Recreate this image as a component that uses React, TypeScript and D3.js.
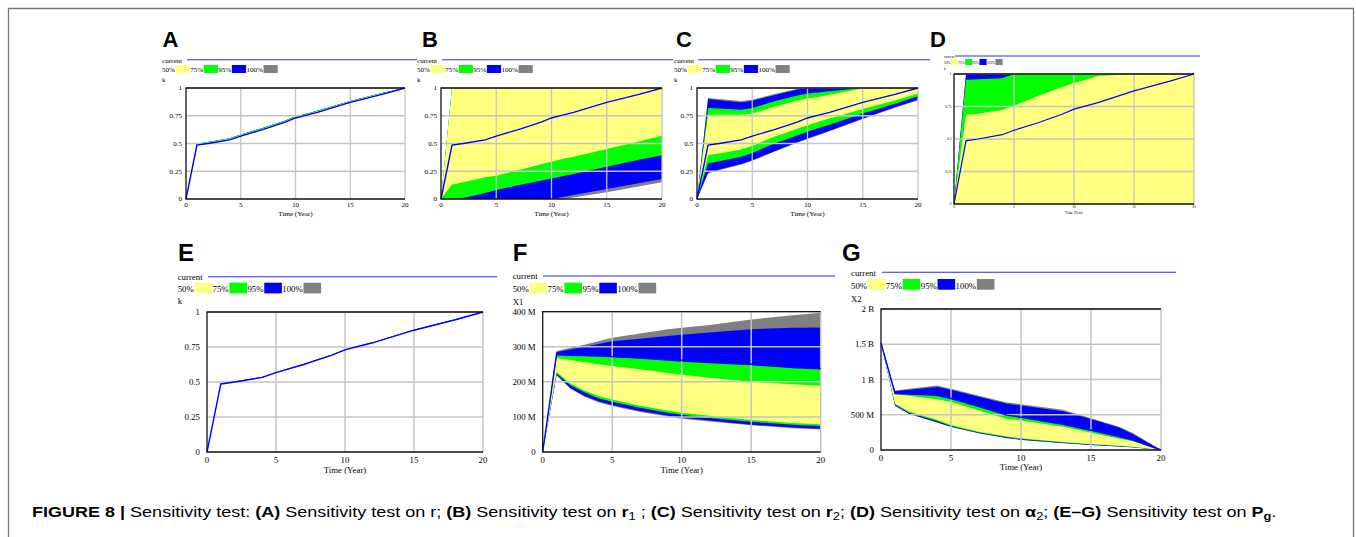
import * as d3 from "d3";
import { useEffect, useRef } from "react";

// shared axis / legend text
const years = [0, 5, 10, 15, 20];
const legendLabels = ["50%", "75%", "95%", "100%"];
const bandColors = ["#ffff80", "#00ff00", "#0000ff", "#808080"];

const kTicks = [0, 0.25, 0.5, 0.75, 1];
const kTickLabels = ["0", "0.25", "0.5", "0.75", "1"];
const x1Ticks = [0, 100, 200, 300, 400]; // millions
const x1TickLabels = ["0", "100 M", "200 M", "300 M", "400 M"];
const x2Ticks = [0, 0.5, 1, 1.5, 2]; // billions
const x2TickLabels = ["0", "500 M", "1 B", "1.5 B", "2 B"];

// k (panels A-E), years
const kTimes = [0, 1, 2, 4, 5, 7, 9, 10, 11, 12, 15, 18, 20];
const kCurrent = [0, 0.486, 0.5, 0.533, 0.567, 0.625, 0.69, 0.73, 0.755, 0.78, 0.87, 0.945, 1.0];

// A: test on r (bands hug the base run)
const aHi50 = [0, 0.494, 0.508, 0.541, 0.575, 0.633, 0.698, 0.738, 0.763, 0.788, 0.878, 0.952, 1.0];
const aHi75 = [0, 0.5, 0.514, 0.547, 0.581, 0.639, 0.704, 0.744, 0.769, 0.794, 0.884, 0.957, 1.0];

// B: test on r1
const bHi = [0, 1, 1, 1, 1, 1, 1, 1, 1, 1, 1, 1, 1];
const bLo50 = [0, 0.13, 0.15, 0.195, 0.21, 0.26, 0.31, 0.335, 0.36, 0.38, 0.45, 0.52, 0.57];
const bLo75 = [0, 0, 0.01, 0.055, 0.08, 0.125, 0.165, 0.185, 0.205, 0.225, 0.29, 0.355, 0.395];
const bLo95 = [0, 0, 0, 0, 0, 0, 0, 0, 0.018, 0.036, 0.09, 0.145, 0.18];
const bLo100 = [0, 0, 0, 0, 0, 0, 0, 0, 0, 0.014, 0.06, 0.115, 0.15];

// C: test on r2
const cHi100 = [0, 0.91, 0.9, 0.883, 0.895, 0.945, 0.99, 1, 1, 1, 1, 1, 1];
const cHi95 = [0, 0.9, 0.89, 0.87, 0.885, 0.935, 0.985, 1, 1, 1, 1, 1, 1];
const cHi75 = [0, 0.82, 0.815, 0.805, 0.82, 0.88, 0.93, 0.95, 0.96, 0.97, 1, 1, 1];
const cHi50 = [0, 0.76, 0.76, 0.76, 0.77, 0.83, 0.885, 0.905, 0.92, 0.94, 0.995, 1, 1];
const cLo50 = [0, 0.395, 0.41, 0.446, 0.48, 0.56, 0.63, 0.665, 0.695, 0.725, 0.81, 0.89, 0.95];
const cLo75 = [0, 0.32, 0.34, 0.38, 0.415, 0.5, 0.57, 0.605, 0.64, 0.67, 0.77, 0.86, 0.925];
const cLo95 = [0, 0.237, 0.265, 0.315, 0.35, 0.43, 0.51, 0.545, 0.58, 0.615, 0.725, 0.83, 0.895];
const cLo100 = [0, 0.23, 0.258, 0.31, 0.345, 0.425, 0.505, 0.54, 0.575, 0.61, 0.72, 0.825, 0.89];

// D: test on alpha2
const dHi95 = [0, 1, 1, 1, 1, 1, 1, 1, 1, 1, 1, 1, 1];
const dHi75 = [0, 0.955, 0.96, 0.967, 1, 1, 1, 1, 1, 1, 1, 1, 1];
const dHi50 = [0, 0.685, 0.695, 0.724, 0.755, 0.83, 0.9, 0.93, 0.955, 0.985, 1, 1, 1];
const dLo = [0, 0, 0, 0, 0, 0, 0, 0, 0, 0, 0, 0, 0];

// E: test on Pg, k
const eHi = [0, 0.489, 0.503, 0.536, 0.57, 0.628, 0.693, 0.733, 0.758, 0.783, 0.873, 0.948, 1.0];

// F: test on Pg, X1 (millions)
const fTimes = [0, 1, 2, 3, 4, 5, 7, 9, 10, 12, 15, 18, 20];
const fCurrent = [0, 280, 278, 276, 274, 272, 269, 264, 262, 258, 250, 243, 238];
const fHi100 = [0, 288, 297, 306, 316, 326, 338, 350, 354, 362, 378, 390, 397];
const fHi95 = [0, 285, 292, 300, 308, 316, 323, 331, 334, 341, 350, 354, 355];
const fHi75 = [0, 275, 274, 273, 272, 270, 266, 260, 257, 253, 247, 239, 235];
const fHi50 = [0, 268, 262, 256, 250, 245, 236, 225, 220, 212, 200, 193, 189];
const fLo50 = [0, 228, 195, 175, 160, 150, 132, 118, 112, 103, 91, 83, 79];
const fLo75 = [0, 224, 190, 170, 153, 143, 126, 112, 106, 97, 86, 78, 74];
const fLo95 = [0, 220, 182, 160, 145, 134, 117, 104, 98, 90, 78, 70, 66];
const fLo100 = [0, 218, 180, 158, 142, 131, 114, 101, 95, 87, 76, 68, 64];

// G: test on Pg, X2 (billions)
const gTimes = [0, 1, 2, 4, 5, 7, 9, 10, 13, 15, 17, 18, 20];
const gCurrent = [1.52, 0.8, 0.795, 0.775, 0.73, 0.615, 0.495, 0.465, 0.365, 0.28, 0.19, 0.14, 0];
const gHi100 = [1.52, 0.845, 0.87, 0.915, 0.87, 0.77, 0.675, 0.65, 0.57, 0.45, 0.33, 0.24, 0];
const gHi95 = [1.52, 0.835, 0.855, 0.895, 0.855, 0.755, 0.655, 0.63, 0.55, 0.44, 0.32, 0.225, 0];
const gHi75 = [1.52, 0.8, 0.795, 0.78, 0.735, 0.62, 0.5, 0.47, 0.36, 0.285, 0.19, 0.14, 0];
const gHi50 = [1.52, 0.79, 0.77, 0.72, 0.68, 0.56, 0.44, 0.42, 0.33, 0.245, 0.16, 0.125, 0];
const gLo50 = [1.52, 0.655, 0.545, 0.43, 0.355, 0.26, 0.19, 0.166, 0.115, 0.085, 0.06, 0.047, 0];
const gLo75 = [1.52, 0.645, 0.53, 0.41, 0.34, 0.25, 0.18, 0.155, 0.105, 0.078, 0.055, 0.042, 0];
const gLo95 = [1.52, 0.63, 0.515, 0.395, 0.33, 0.24, 0.17, 0.147, 0.098, 0.072, 0.05, 0.038, 0];
const gLo100 = [1.52, 0.625, 0.51, 0.39, 0.325, 0.235, 0.165, 0.143, 0.095, 0.07, 0.048, 0.036, 0];

const captionParts = [
  ["FIGURE 8 | ", "b"],
  ["Sensitivity test: ", ""],
  ["(A)", "b"],
  [" Sensitivity test on r; ", ""],
  ["(B)", "b"],
  [" Sensitivity test on ", ""],
  ["r", "b"],
  ["1", "sub"],
  [" ; ", ""],
  ["(C)", "b"],
  [" Sensitivity test on ", ""],
  ["r", "b"],
  ["2", "sub"],
  ["; ", ""],
  ["(D)", "b"],
  [" Sensitivity test on ", ""],
  ["\u03b1", "b"],
  ["2", "sub"],
  ["; ", ""],
  ["(E\u2013G)", "b"],
  [" Sensitivity test on ", ""],
  ["P", "b"],
  ["g", "bsub"],
  [".", ""],
];

const topRow = { letterY: 47, letterSize: 22, fs: 7.1, currentY: 63, lineY: 59.7, swY: 65, swH: 8, legendY: 72, unitY: 82, tickGap: 4, tickDy: 8, titleDy: 17, gridW: 1.3 };
const bottomRow = { letterY: 261, letterSize: 24, fs: 8.8, swH: 10.7, tickGap: 7, tickDy: 10.7, titleDy: 20.5, gridW: 1.5 };

const kBands = (lo100, lo95, lo75, lo50, hi50, hi75, hi95, hi100) => ({ lo100, lo95, lo75, lo50, hi50, hi75, hi95, hi100 });

const panels = [
  {
    ...topRow, letter: "A", letterX: 162.5, textX: 162, lineX0: 187, lineX1: 417, frame: [186, 88, 405, 199],
    times: kTimes, current: kCurrent, yMax: 1, yTicks: kTicks, yTickLabels: kTickLabels, unit: "k",
    ...kBands(kCurrent, kCurrent, kCurrent, kCurrent, aHi50, aHi75, aHi75, aHi75),
  },
  {
    ...topRow, letter: "B", letterX: 422, textX: 417, lineX0: 442, lineX1: 673, frame: [441, 88, 662, 199],
    times: kTimes, current: kCurrent, yMax: 1, yTicks: kTicks, yTickLabels: kTickLabels, unit: "k",
    ...kBands(bLo100, bLo95, bLo75, bLo50, bHi, bHi, bHi, bHi),
  },
  {
    ...topRow, letter: "C", letterX: 676, textX: 674, lineX0: 698, lineX1: 930, frame: [697, 88, 918, 199],
    times: kTimes, current: kCurrent, yMax: 1, yTicks: kTicks, yTickLabels: kTickLabels, unit: "k",
    ...kBands(cLo100, cLo95, cLo75, cLo50, cHi50, cHi75, cHi95, cHi100),
  },
  {
    ...topRow, letter: "D", letterX: 930, textX: 944, fs: 3.6, currentY: 57.5, lineY: 56, swY: 59, swH: 6, legendY: 63.5,
    unitY: 70, tickGap: 2.5, tickDy: 3.5, titleDy: 10, gridW: 1.4, lineX0: 955, lineX1: 1200, frame: [954, 74, 1194, 204],
    times: kTimes, current: kCurrent, yMax: 1, yTicks: kTicks, yTickLabels: kTickLabels, unit: "k",
    ...kBands(dLo, dLo, dLo, dLo, dHi50, dHi75, dHi95, dHi95),
  },
  {
    ...bottomRow, letter: "E", letterX: 178, textX: 177.7, currentY: 280, lineY: 276.7, swY: 282.7, legendY: 292, unitY: 304,
    lineX0: 208, lineX1: 497, frame: [207, 312, 483, 452],
    times: kTimes, current: kCurrent, yMax: 1, yTicks: kTicks, yTickLabels: kTickLabels, unit: "k",
    ...kBands(kCurrent, kCurrent, kCurrent, kCurrent, kCurrent, eHi, eHi, eHi),
  },
  {
    ...bottomRow, letter: "F", letterX: 512.7, textX: 512.7, currentY: 279, lineY: 276, swY: 282.7, legendY: 292, unitY: 305,
    lineX0: 543, lineX1: 835, frame: [542.7, 311.7, 820.7, 452],
    times: fTimes, current: fCurrent, yMax: 400, yTicks: x1Ticks, yTickLabels: x1TickLabels, unit: "X1",
    ...kBands(fLo100, fLo95, fLo75, fLo50, fHi50, fHi75, fHi95, fHi100),
  },
  {
    ...bottomRow, letter: "G", letterX: 842, textX: 851, currentY: 276, lineY: 272.3, swY: 279, legendY: 288.5, unitY: 301.7,
    lineX0: 882, lineX1: 1176, frame: [881, 309, 1161, 450], titleDy: 20,
    times: gTimes, current: gCurrent, yMax: 2, yTicks: x2Ticks, yTickLabels: x2TickLabels, unit: "X2",
    ...kBands(gLo100, gLo95, gLo75, gLo50, gHi50, gHi75, gHi95, gHi100),
  },
];

const SERIF = "'Liberation Serif', 'Times New Roman', Times, serif";
const SANS = "'Liberation Sans', Arial, Helvetica, sans-serif";

function drawPanel(svg, p) {
  const [L, T, R, B] = p.frame;
  const x = d3.scaleLinear().domain([0, 20]).range([L, R]);
  const y = d3.scaleLinear().domain([0, p.yMax]).range([B, T]);

  svg.append("text")
    .attr("x", p.letterX).attr("y", p.letterY)
    .attr("font-family", SANS).attr("font-weight", "bold").attr("font-size", p.letterSize)
    .text(p.letter);

  const g = svg.append("g").attr("font-family", SERIF).attr("font-size", p.fs).attr("fill", "#000");

  // legend
  g.append("text").attr("x", p.textX).attr("y", p.currentY).text("current");
  g.append("line")
    .attr("x1", p.lineX0).attr("x2", p.lineX1).attr("y1", p.lineY).attr("y2", p.lineY)
    .attr("stroke", "#2b2bff").attr("stroke-width", 1.1);

  let cx = p.textX;
  legendLabels.forEach((lab, i) => {
    const t = g.append("text").attr("x", cx).attr("y", p.legendY).text(lab);
    const w = t.node().getComputedTextLength();
    const sx = cx + w + 0.08 * p.fs;
    g.append("rect")
      .attr("x", sx).attr("y", p.swY).attr("width", 2 * p.fs).attr("height", p.swH)
      .attr("fill", bandColors[i]);
    cx = sx + 2 * p.fs + 0.05 * p.fs;
  });

  g.append("text").attr("x", p.textX).attr("y", p.unitY).text(p.unit);

  // bands
  const clipId = "clip-" + p.letter;
  svg.append("clipPath").attr("id", clipId)
    .append("rect").attr("x", L).attr("y", T).attr("width", R - L).attr("height", B - T);

  const plot = svg.append("g").attr("clip-path", `url(#${clipId})`);
  const bands = [
    { c: bandColors[3], lo: p.lo100, hi: p.hi100 },
    { c: bandColors[2], lo: p.lo95, hi: p.hi95 },
    { c: bandColors[1], lo: p.lo75, hi: p.hi75 },
    { c: bandColors[0], lo: p.lo50, hi: p.hi50 },
  ];
  bands.forEach(b => {
    const area = d3.area()
      .x((d, i) => x(p.times[i]))
      .y0((d, i) => y(b.lo[i]))
      .y1((d, i) => y(b.hi[i]));
    plot.append("path").attr("d", area(p.times)).attr("fill", b.c);
  });

  // grid on top of the bands
  const grid = svg.append("g").attr("stroke", "#c4c4c4").attr("stroke-width", p.gridW);
  p.yTicks.filter(v => v > 0).forEach(v => {
    grid.append("line").attr("x1", L).attr("x2", R).attr("y1", y(v)).attr("y2", y(v));
  });
  years.filter(v => v > 0).forEach(v => {
    grid.append("line").attr("x1", x(v)).attr("x2", x(v)).attr("y1", T).attr("y2", B);
  });

  // base run
  const line = d3.line()
    .x((d, i) => x(p.times[i]))
    .y((d, i) => y(p.current[i]));
  svg.append("path").attr("d", line(p.times))
    .attr("fill", "none").attr("stroke", "#0000ff").attr("stroke-width", p.fs > 5 ? 1.4 : 1.2);

  // frame
  svg.append("path")
    .attr("d", `M${R},${T} H${L} V${B} H${R}`)
    .attr("fill", "none").attr("stroke", "#111").attr("stroke-width", 1.3);

  // tick labels
  p.yTicks.forEach((v, i) => {
    g.append("text").attr("x", L - p.tickGap).attr("y", y(v)).attr("dy", "0.35em")
      .attr("text-anchor", "end").text(p.yTickLabels[i]);
  });
  years.forEach(v => {
    g.append("text").attr("x", x(v)).attr("y", B + p.tickDy)
      .attr("text-anchor", "middle").text(String(v));
  });
  g.append("text").attr("x", (L + R) / 2).attr("y", B + p.titleDy)
    .attr("text-anchor", "middle").text("Time (Year)");
}

function drawCaption(svg) {
  const cap = svg.append("text")
    .attr("x", 0).attr("y", 517)
    .attr("font-family", SANS).attr("font-size", 14).attr("fill", "#000");
  let low = false;
  captionParts.forEach(([s, style]) => {
    const ts = cap.append("tspan").text(s);
    if (style.startsWith("b")) ts.attr("font-weight", "bold");
    const sub = style.endsWith("sub");
    if (sub) {
      ts.attr("font-size", 10);
      if (!low) ts.attr("dy", 3);
      low = true;
    } else if (low) {
      ts.attr("dy", -3);
      low = false;
    }
  });
  const w = cap.node().getBBox().width;
  const sx = (1277 - 32) / w;
  cap.attr("transform", `translate(32,0) scale(${sx},1)`);
}

export default function App() {
  const ref = useRef(null);

  useEffect(() => {
    const svg = d3.select(ref.current);
    svg.selectAll("*").remove();

    svg.append("path")
      .attr("d", "M8.5,537 V8.5 H1353.5 V537")
      .attr("fill", "none").attr("stroke", "#777").attr("stroke-width", 1.3);

    panels.forEach(p => drawPanel(svg, p));
    drawCaption(svg);
  }, []);

  return (
    <svg
      ref={ref}
      width={1356}
      height={537}
      style={{ position: "absolute", left: 0, top: 0, background: "#fff" }}
    />
  );
}
